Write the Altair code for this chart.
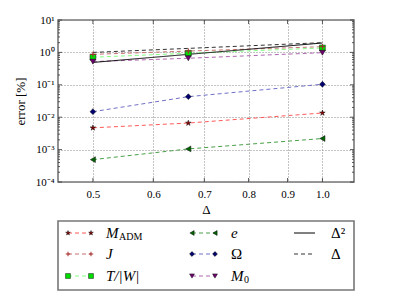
import altair as alt
import pandas as pd

# ---- data ----
delta = [0.5, 0.667, 1.0]
m_adm = [0.0047, 0.0066, 0.0135]
j_err = [0.87, 1.1, 1.5]
tw_err = [0.71, 0.94, 1.37]
e_err = [0.00049, 0.00105, 0.0022]
omega_err = [0.0148, 0.043, 0.104]
m0_err = [0.52, 0.66, 0.98]
ref_d2 = [0.49, 0.87, 1.95]
ref_d1 = [1.0, 1.33, 2.0]

series = ["M_ADM", "J", "T/|W|", "e", "Omega", "M0", "D2", "D1"]
series_vals = [m_adm, j_err, tw_err, e_err, omega_err, m0_err, ref_d2, ref_d1]
x_ticks = [0.5, 0.6, 0.7, 0.8, 0.9, 1.0]
y_ticks = [1e-4, 1e-3, 1e-2, 1e-1, 1e0, 1e1]
y_minor = [m * 10.0 ** p for p in range(-4, 1) for m in range(2, 10)]

# legend text
leg_main = ["M", "J", "T/|W|", "e", "Ω", "M", "Δ²", "Δ"]
leg_sub = ["ADM", "", "", "", "", "0", "", ""]
leg_italic = [True, True, True, True, False, True, False, False]

# ---- styles ----
line_cols = ["#ff5959", "#c87070", "#85ff85", "#4a9f4a", "#7070c8", "#b068b0", "#000000", "#333333"]
mark_cols = ["#8b0000", "#a52a2a", "#00e000", "#006400", "#000070", "#700070", "#000000", "#000000"]
STAR = "M0,-1L0.225,-0.309L0.951,-0.309L0.363,0.118L0.588,0.809L0,0.382L-0.588,0.809L-0.363,0.118L-0.951,-0.309L-0.225,-0.309Z"
PLUS = "M-1,0L1,0M0,-1L0,1"
shapes = [STAR, PLUS, "square", "triangle-left", "diamond", "triangle-down", "circle", "circle"]
dashes = [[4, 3]] * 6 + [[1, 0], [4, 3]]
FONT = "Liberation Serif"

rows = []
for s, vals in zip(series, series_vals):
    for d, v in zip(delta, vals):
        rows.append({"series": s, "delta": d, "val": v})
df = pd.DataFrame(rows)

W, H = 296, 162
xscale = alt.Scale(type="log", domain=[0.45, 1.1], nice=False)
yscale = alt.Scale(type="log", domain=[1e-4, 10], nice=False)
xenc = alt.X("delta:Q", scale=xscale,
             axis=alt.Axis(values=x_ticks, format=".1f", title="Δ", grid=True,
                           gridDash=[1, 2], gridColor="#888", ticks=False,
                           labelPadding=6, titlePadding=4, domain=False))
label_expr = ("datum.value < 0.0005 ? '10⁻⁴' : datum.value < 0.005 ? '10⁻³' : "
              "datum.value < 0.05 ? '10⁻²' : datum.value < 0.5 ? '10⁻¹' : "
              "datum.value < 5 ? '10⁰' : '10¹'")
yenc = alt.Y("val:Q", scale=yscale,
             axis=alt.Axis(values=y_ticks, labelExpr=label_expr, title="error [%]",
                           grid=True, gridDash=[1, 2], gridColor="#888", ticks=False,
                           labelPadding=4, titlePadding=8, domain=False))

color_sc = alt.Scale(domain=series, range=line_cols)
lines = alt.Chart(df).mark_line(strokeWidth=1).encode(
    x=xenc, y=yenc,
    color=alt.Color("series:N", scale=color_sc, legend=None),
    strokeDash=alt.StrokeDash("series:N", scale=alt.Scale(domain=series, range=dashes), legend=None),
)
filled_series = ["M_ADM", "T/|W|", "e", "Omega", "M0"]
fill_sc = alt.Scale(domain=series, range=mark_cols)
shape_sc = alt.Scale(domain=series, range=shapes)
marks_f = alt.Chart(df).transform_filter(
    alt.FieldOneOfPredicate(field="series", oneOf=filled_series)
).mark_point(filled=True, size=34, stroke="#111", strokeWidth=0.5, opacity=1).encode(
    x="delta:Q", y="val:Q",
    fill=alt.Fill("series:N", scale=fill_sc, legend=None),
    shape=alt.Shape("series:N", scale=shape_sc, legend=None),
)
marks_j = alt.Chart(df).transform_filter(
    alt.FieldEqualPredicate(field="series", equal="J")
).mark_point(filled=False, size=28, strokeWidth=1, shape=PLUS, color="#a52a2a", opacity=1).encode(
    x="delta:Q", y="val:Q",
)

# inward frame ticks
ymaj = pd.DataFrame({"v": y_ticks})
ymin = pd.DataFrame({"v": y_minor})
xmaj = pd.DataFrame({"v": x_ticks})
tick_layers = []
for d, ln in ((ymaj, 4), (ymin, 2)):
    tick_layers.append(alt.Chart(d).mark_rule(color="#333", strokeWidth=0.8).encode(
        y=alt.Y("v:Q", scale=yscale), x=alt.value(0), x2=alt.value(ln)))
    tick_layers.append(alt.Chart(d).mark_rule(color="#333", strokeWidth=0.8).encode(
        y=alt.Y("v:Q", scale=yscale), x=alt.value(W), x2=alt.value(W - ln)))
tick_layers.append(alt.Chart(xmaj).mark_rule(color="#333", strokeWidth=0.8).encode(
    x=alt.X("v:Q", scale=xscale), y=alt.value(H), y2=alt.value(H - 4)))
tick_layers.append(alt.Chart(xmaj).mark_rule(color="#333", strokeWidth=0.8).encode(
    x=alt.X("v:Q", scale=xscale), y=alt.value(0), y2=alt.value(4)))

main = alt.layer(lines, *tick_layers, marks_f, marks_j).properties(width=W, height=H)

# ---- legend panel ----
LW, LH = 296, 69
col_x0 = [10, 134, 236]
col_x1 = [33, 157, 257]
col_lx = [48, 173, 273]
row_y = [12, 33, 55]
sub_dx = 13
lrows = []
for i, s in enumerate(series):
    c, r = i // 3, i % 3
    lrows.append({"series": s, "x0": col_x0[c], "x1": col_x1[c], "lx": col_lx[c],
                  "sx": col_lx[c] + sub_dx, "y": row_y[r], "sy": row_y[r] + 4,
                  "main": leg_main[i], "sub": leg_sub[i], "ital": leg_italic[i]})
ldf = pd.DataFrame(lrows)
lxs = alt.Scale(domain=[0, LW], range=[0, LW], nice=False, zero=False)
lys = alt.Scale(domain=[0, LH], range=[0, LH], nice=False, zero=False)
lbase = alt.Chart(ldf)
lseg = lbase.mark_rule(strokeWidth=1).encode(
    x=alt.X("x0:Q", scale=lxs, axis=None), x2="x1:Q",
    y=alt.Y("y:Q", scale=lys, axis=None),
    color=alt.Color("series:N", scale=color_sc, legend=None),
    strokeDash=alt.StrokeDash("series:N", scale=alt.Scale(domain=series, range=dashes), legend=None),
)
lm = []
for fld in ("x0", "x1"):
    lm.append(lbase.transform_filter(
        alt.FieldOneOfPredicate(field="series", oneOf=filled_series)
    ).mark_point(filled=True, size=24, stroke="#111", strokeWidth=0.5, opacity=1).encode(
        x=alt.X(f"{fld}:Q", scale=lxs, axis=None), y=alt.Y("y:Q", scale=lys, axis=None),
        fill=alt.Fill("series:N", scale=fill_sc, legend=None),
        shape=alt.Shape("series:N", scale=shape_sc, legend=None),
    ))
    lm.append(lbase.transform_filter(
        alt.FieldEqualPredicate(field="series", equal="J")
    ).mark_point(filled=False, size=20, strokeWidth=1, shape=PLUS, color="#a52a2a", opacity=1).encode(
        x=alt.X(f"{fld}:Q", scale=lxs, axis=None), y=alt.Y("y:Q", scale=lys, axis=None),
    ))
ltxt_i = lbase.transform_filter("datum.ital").mark_text(
    align="left", baseline="middle", font=FONT, fontSize=15, fontStyle="italic", color="#000"
).encode(x=alt.X("lx:Q", scale=lxs, axis=None), y=alt.Y("y:Q", scale=lys, axis=None), text="main:N")
ltxt_u = lbase.transform_filter("!datum.ital").mark_text(
    align="left", baseline="middle", font=FONT, fontSize=15, color="#000"
).encode(x=alt.X("lx:Q", scale=lxs, axis=None), y=alt.Y("y:Q", scale=lys, axis=None), text="main:N")
ltxt_s = lbase.transform_filter("datum.sub != ''").mark_text(
    align="left", baseline="middle", font=FONT, fontSize=10, color="#000"
).encode(x=alt.X("sx:Q", scale=lxs, axis=None), y=alt.Y("sy:Q", scale=lys, axis=None), text="sub:N")
legend = alt.layer(lseg, *lm, ltxt_i, ltxt_u, ltxt_s).properties(width=LW, height=LH)

chart = alt.vconcat(main, legend, spacing=3, background="white").configure_view(
    stroke="#777", strokeWidth=1.6
).configure_axis(
    labelFont=FONT, titleFont=FONT, labelFontSize=11, titleFontSize=13,
    labelColor="#000", titleColor="#000", titleFontWeight="normal"
)

chart.save("out.html", embed_options={"renderer": "svg", "actions": False})
